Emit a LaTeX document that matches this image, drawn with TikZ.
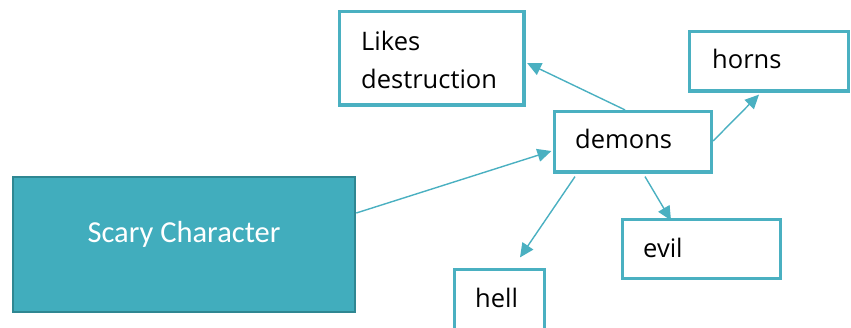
\documentclass[tikz,border=0pt]{standalone}
\usepackage{fontspec}
\setmainfont{Open Sans}
\newfontfamily\scaryfont{Carlito}
\usetikzlibrary{arrows.meta}
\definecolor{teal1}{HTML}{4AB0C1}
\definecolor{tealfill}{HTML}{41ADBD}
\definecolor{tealdark}{HTML}{2F8792}
\tikzset{
  x=1pt, y=-1pt,
  box/.style={draw=teal1, line width=3.2pt, fill=white, inner sep=0pt},
  mainbox/.style={draw=tealdark, line width=2.6pt, fill=tealfill, inner sep=0pt},
  lbl/.style={anchor=base west, inner sep=0pt, font=\fontsize{25.5}{39}\selectfont, text=black},
  conn/.style={draw=teal1, line width=1.4pt, -{Triangle[length=14pt,width=13pt]}}
}
\begin{document}
\begin{tikzpicture}
\useasboundingbox (0,0) rectangle (851,327);
\clip (0,0) rectangle (851,327);
% boxes
\node[box, minimum width=184.5pt, minimum height=93.5pt] (likes) at (431.75,58.25) {};
\node[box, minimum width=157pt, minimum height=60.5pt] (demons) at (633,141.75) {};
\node[box, minimum width=159pt, minimum height=59.5pt] (horns) at (769,61.25) {};
\node[mainbox, minimum width=342pt, minimum height=135pt] (scary) at (184,244.5) {};
\node[box, minimum width=158pt, minimum height=59pt] (evil) at (701.5,249) {};
\node[box, minimum width=90pt, minimum height=71pt] (hell) at (499.5,305) {};
% texts
\node[lbl] (likesT1) at (361,50) {Likes};
\node[lbl] (likesT2) at (361,88) {destruction};
\node[lbl] (demonsT) at (575,148) {demons};
\node[lbl] (hornsT) at (712,68) {horns};
\node[lbl] (evilT) at (643,257) {evil};
\node[lbl] (hellT) at (475,307) {hell};
\node[anchor=base, inner sep=0pt, text=white, font=\scaryfont\fontsize{30.5}{36}\selectfont] (scaryT) at (184,242) {Scary Character};
% connectors
\draw[conn] ([yshift=31.5pt]scary.east) -- ([yshift=-9.25pt,xshift=-1.5pt]demons.west);
\draw[conn] ([xshift=-8pt]demons.north) -- ([yshift=-4.75pt,xshift=1.5pt]likes.east);
\draw[conn] ([yshift=0.75pt]demons.east) -- ([xshift=-10pt,yshift=-2pt]horns.south);
\draw[conn] ([xshift=-58pt,yshift=-3pt]demons.south) -- ([xshift=20.5pt,yshift=10.5pt]hell.north);
\draw[conn] ([xshift=12pt,yshift=-3pt]demons.south) -- ([xshift=-30.5pt,yshift=-2.5pt]evil.north);
\end{tikzpicture}
\end{document}
